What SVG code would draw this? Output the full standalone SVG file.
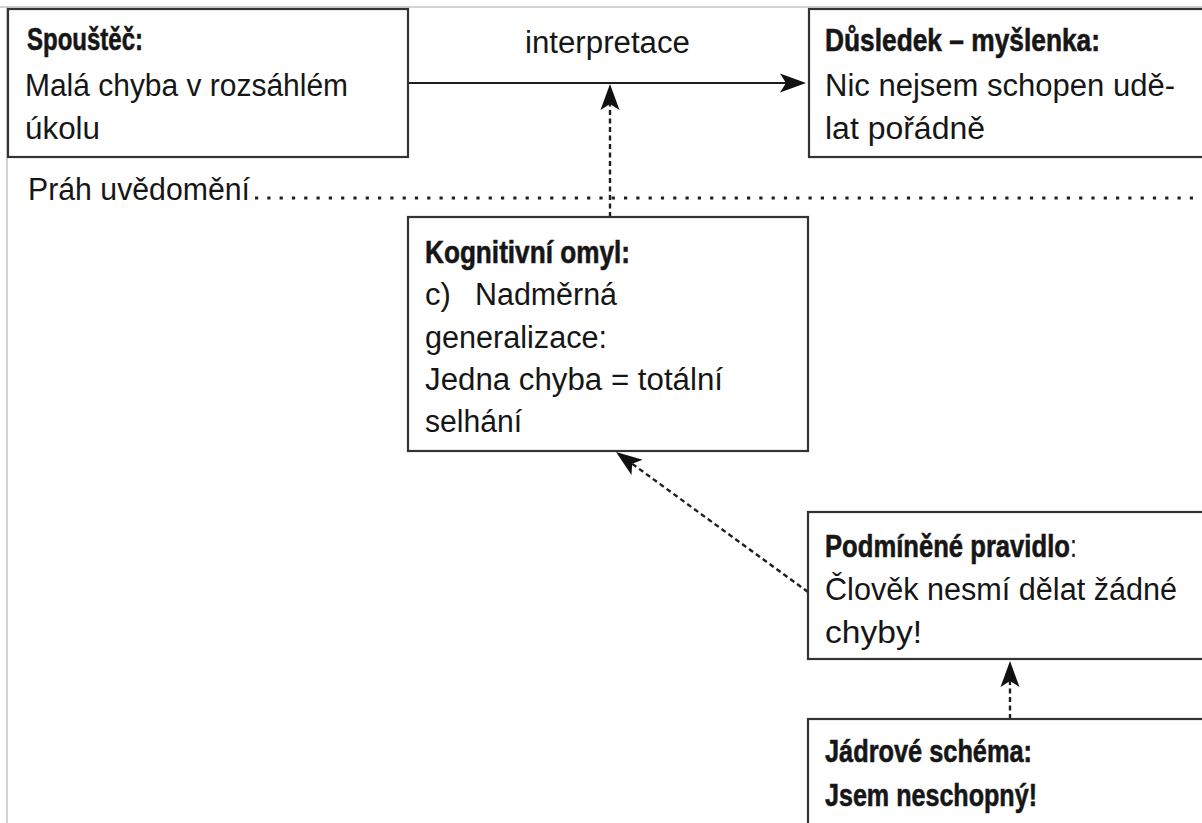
<svg xmlns="http://www.w3.org/2000/svg" width="1202" height="823" viewBox="0 0 1202 823">
  <style>
    .box { fill: #ffffff; stroke: #333333; stroke-width: 2.2; }
    .t { font-family: "Liberation Sans", Arial, sans-serif; font-size: 31px; fill: #161616; }
    .b { font-weight: bold; font-size: 32px; stroke: #161616; stroke-width: 0.6; }
    .reg { font-weight: normal; font-size: 31px; stroke: none; }
    .solid { fill: none; stroke: #1e1e1e; stroke-width: 2.2; }
    .dash { fill: none; stroke: #1e1e1e; stroke-width: 2.4; stroke-dasharray: 5 3.5; }
    .dots { fill: none; stroke: #1e1e1e; stroke-width: 3.2; stroke-dasharray: 3.2 9.1; }
    .frame { stroke: #c4c4c4; stroke-width: 1.5; }
  </style>
  <defs>
    <marker id="head" viewBox="0 0 26 20" refX="6" refY="10" markerWidth="26" markerHeight="20" markerUnits="userSpaceOnUse" orient="auto">
      <path d="M0,0.5 L26,10 L0,19.5 L6,10 Z" fill="#111111"/>
    </marker>
  </defs>

  <rect width="1202" height="823" fill="#ffffff"/>
  <!-- thin page frame on the top and left -->
  <line class="frame" x1="0" y1="7" x2="1202" y2="7"/>
  <line class="frame" x1="7" y1="7" x2="7" y2="823"/>

  <!-- awareness threshold -->
  <g id="threshold">
    <text class="t" x="28" y="200" textLength="222" lengthAdjust="spacingAndGlyphs">Práh uvědomění</text>
    <line class="dots" x1="255" y1="198" x2="1202" y2="198"/>
  </g>

  <g id="connectors">
    <line class="solid" x1="409" y1="83" x2="786" y2="83" marker-end="url(#head)"/>
    <text class="t" x="525" y="53" textLength="165" lengthAdjust="spacingAndGlyphs">interpretace</text>
    <line class="dash" x1="610" y1="217" x2="610" y2="104" marker-end="url(#head)"/>
    <line class="dash" x1="808" y1="592" x2="632.2" y2="463.8" marker-end="url(#head)"/>
    <line class="dash" x1="1010" y1="719" x2="1010" y2="681" marker-end="url(#head)"/>
  </g>

  <g id="trigger">
    <rect class="box" x="8" y="9" width="400" height="148"/>
    <text class="t b" x="27" y="50" textLength="116" lengthAdjust="spacingAndGlyphs">Spouštěč:</text>
    <text class="t" x="25" y="96" textLength="323" lengthAdjust="spacingAndGlyphs">Malá chyba v rozsáhlém</text>
    <text class="t" x="25" y="139" textLength="75" lengthAdjust="spacingAndGlyphs">úkolu</text>
  </g>

  <g id="consequence">
    <rect class="box" x="809" y="9" width="400" height="148"/>
    <text class="t b" x="825" y="51" textLength="275" lengthAdjust="spacingAndGlyphs">Důsledek – myšlenka:</text>
    <text class="t" x="825" y="96" textLength="350" lengthAdjust="spacingAndGlyphs">Nic nejsem schopen udě-</text>
    <text class="t" x="825" y="139" textLength="160" lengthAdjust="spacingAndGlyphs">lat pořádně</text>
  </g>

  <g id="cognitive-error">
    <rect class="box" x="408" y="217" width="400" height="234"/>
    <text class="t b" x="425" y="263" textLength="205" lengthAdjust="spacingAndGlyphs">Kognitivní omyl:</text>
    <text class="t" x="425" y="305">c)</text>
    <text class="t" x="475" y="305" textLength="142" lengthAdjust="spacingAndGlyphs">Nadměrná</text>
    <text class="t" x="425" y="348" textLength="182" lengthAdjust="spacingAndGlyphs">generalizace:</text>
    <text class="t" x="425" y="390" textLength="298" lengthAdjust="spacingAndGlyphs">Jedna chyba = totální</text>
    <text class="t" x="425" y="432" textLength="97" lengthAdjust="spacingAndGlyphs">selhání</text>
  </g>

  <g id="conditional-rule">
    <rect class="box" x="808" y="512" width="400" height="147"/>
    <!-- bold label with a regular-weight colon, condensed as one line -->
    <text class="t" transform="translate(825,557) scale(0.801,1)"><tspan class="b">Podmíněné pravidlo</tspan><tspan class="reg">:</tspan></text>
    <text class="t" x="825" y="600" textLength="352" lengthAdjust="spacingAndGlyphs">Člověk nesmí dělat žádné</text>
    <text class="t" x="825" y="643" textLength="97" lengthAdjust="spacingAndGlyphs">chyby!</text>
  </g>

  <g id="core-schema">
    <rect class="box" x="808" y="719" width="400" height="120"/>
    <text class="t b" x="825" y="762" textLength="207" lengthAdjust="spacingAndGlyphs">Jádrové schéma:</text>
    <text class="t b" x="825" y="806" textLength="212" lengthAdjust="spacingAndGlyphs">Jsem neschopný!</text>
  </g>
</svg>
